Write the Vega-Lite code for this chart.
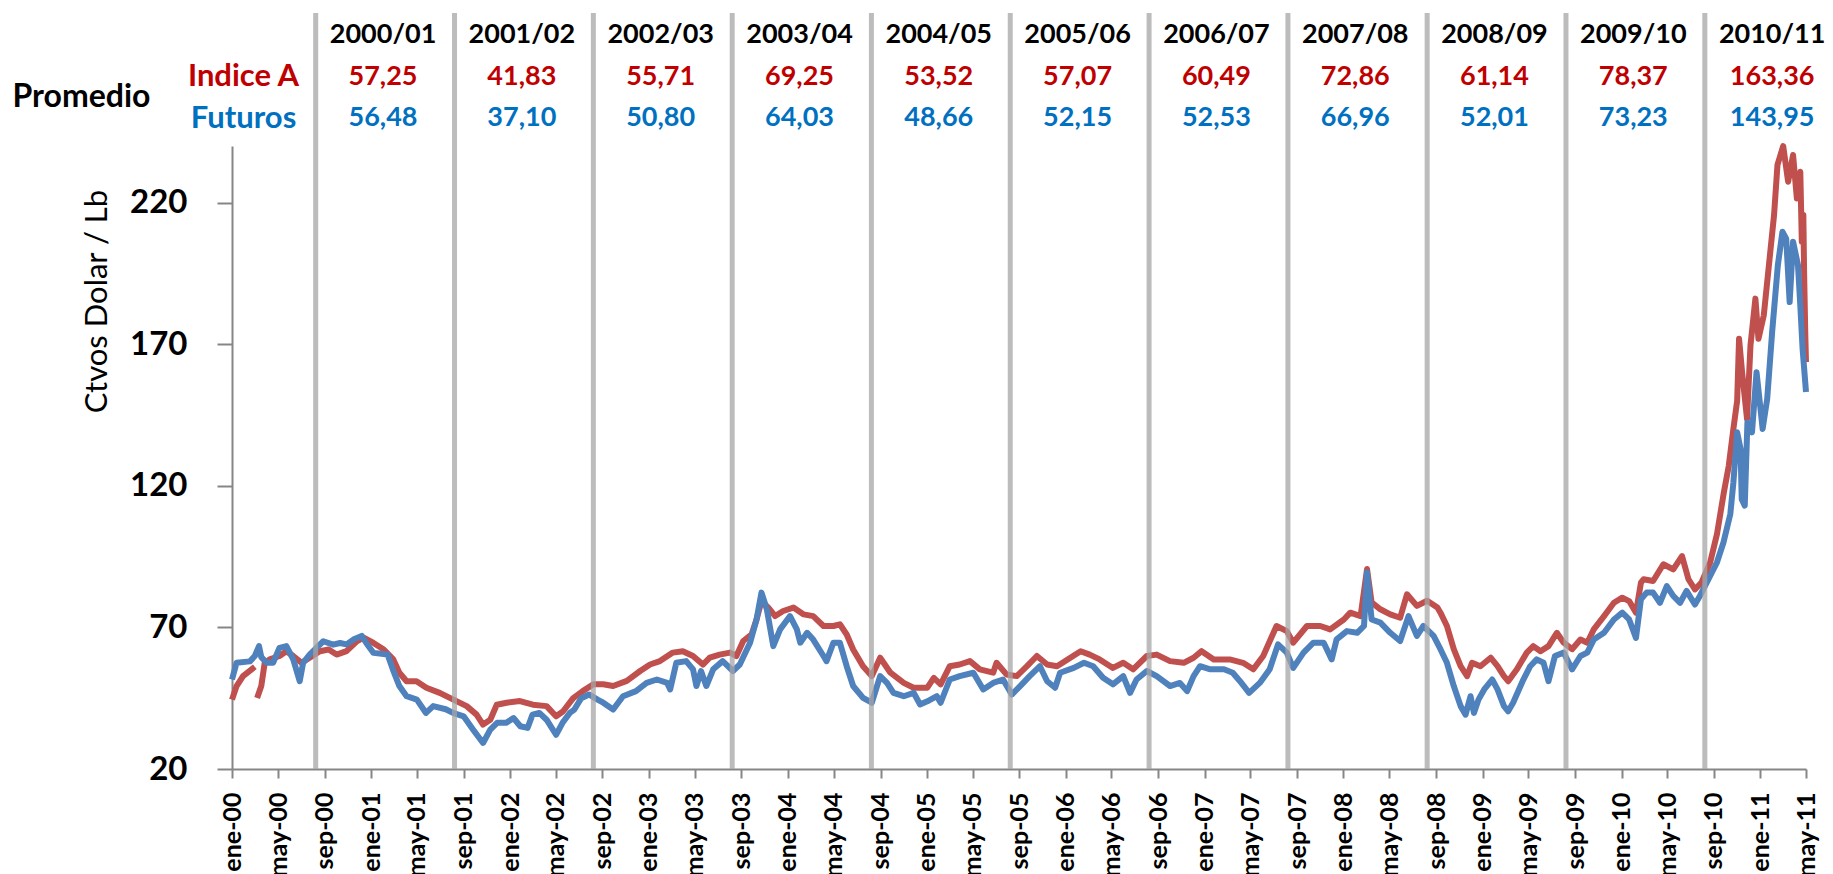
{
 "$schema": "https://vega.github.io/schema/vega-lite/v6.json",
 "padding": {"left": 12, "top": 10, "right": 5, "bottom": 0},
 "config": {
  "font": "Lato",
  "view": {"stroke": null},
  "axis": {"grid": false},
  "locale": {"number": {"decimal": ",", "thousands": ".", "grouping": [3], "currency": ["", " €"]}}
 },
 "datasets": {
  "campanas": [
   {"campana": "2000/01", "centro": "2001-02-01", "indiceA": 57.25, "futuros": 56.48},
   {"campana": "2001/02", "centro": "2002-02-01", "indiceA": 41.83, "futuros": 37.10},
   {"campana": "2002/03", "centro": "2003-02-01", "indiceA": 55.71, "futuros": 50.80},
   {"campana": "2003/04", "centro": "2004-02-01", "indiceA": 69.25, "futuros": 64.03},
   {"campana": "2004/05", "centro": "2005-02-01", "indiceA": 53.52, "futuros": 48.66},
   {"campana": "2005/06", "centro": "2006-02-01", "indiceA": 57.07, "futuros": 52.15},
   {"campana": "2006/07", "centro": "2007-02-01", "indiceA": 60.49, "futuros": 52.53},
   {"campana": "2007/08", "centro": "2008-02-01", "indiceA": 72.86, "futuros": 66.96},
   {"campana": "2008/09", "centro": "2009-02-01", "indiceA": 61.14, "futuros": 52.01},
   {"campana": "2009/10", "centro": "2010-02-01", "indiceA": 78.37, "futuros": 73.23},
   {"campana": "2010/11", "centro": "2011-02-01", "indiceA": 163.36, "futuros": 143.95}
  ],
  "cortes": [
   {"fecha": "2000-08-08"}, {"fecha": "2001-08-08"}, {"fecha": "2002-08-08"}, {"fecha": "2003-08-08"},
   {"fecha": "2004-08-08"}, {"fecha": "2005-08-08"}, {"fecha": "2006-08-08"}, {"fecha": "2007-08-08"},
   {"fecha": "2008-08-08"}, {"fecha": "2009-08-08"}, {"fecha": "2010-08-08"}
  ],
  "indiceA": [
   {"fecha":"2000-01-01","valor":44.5},{"fecha":"2000-01-13","valor":49.3},{"fecha":"2000-01-30","valor":52.8},{"fecha":"2000-03-01","valor":56.1},{"fecha":"2000-03-03","valor":null},{"fecha":"2000-03-07","valor":45.1},{"fecha":"2000-03-18","valor":49.3},{"fecha":"2000-03-27","valor":57.5},{"fecha":"2000-04-09","valor":58.7},{"fecha":"2000-05-05","valor":59.9},{"fecha":"2000-05-23","valor":61.6},{"fecha":"2000-06-10","valor":59.9},{"fecha":"2000-07-02","valor":57.5},{"fecha":"2000-07-23","valor":59.3},{"fecha":"2000-08-19","valor":61.6},{"fecha":"2000-09-11","valor":62.2},{"fecha":"2000-10-02","valor":60.4},{"fecha":"2000-10-28","valor":61.6},{"fecha":"2000-11-24","valor":65.1},{"fecha":"2000-12-12","valor":66.4},
   {"fecha":"2001-01-07","valor":64.5},{"fecha":"2001-02-03","valor":62.2},{"fecha":"2001-02-28","valor":58.7},{"fecha":"2001-03-16","valor":54},{"fecha":"2001-04-04","valor":51},{"fecha":"2001-04-30","valor":51},{"fecha":"2001-05-26","valor":48.7},{"fecha":"2001-06-30","valor":46.9},{"fecha":"2001-08-05","valor":44.5},{"fecha":"2001-09-09","valor":42.2},{"fecha":"2001-10-05","valor":39.2},{"fecha":"2001-10-22","valor":35.7},{"fecha":"2001-11-10","valor":37.4},{"fecha":"2001-11-27","valor":42.7},{"fecha":"2001-12-23","valor":43.4},
   {"fecha":"2002-01-27","valor":44},{"fecha":"2002-03-02","valor":42.7},{"fecha":"2002-04-07","valor":42.2},{"fecha":"2002-05-02","valor":38.6},{"fecha":"2002-05-20","valor":40.3},{"fecha":"2002-06-16","valor":45},{"fecha":"2002-07-11","valor":47.5},{"fecha":"2002-08-08","valor":49.9},{"fecha":"2002-09-03","valor":49.9},{"fecha":"2002-09-29","valor":49.3},{"fecha":"2002-11-04","valor":51.1},{"fecha":"2002-12-09","valor":54.6},
   {"fecha":"2003-01-04","valor":56.9},{"fecha":"2003-01-30","valor":58.1},{"fecha":"2003-03-05","valor":61.1},{"fecha":"2003-03-31","valor":61.6},{"fecha":"2003-04-27","valor":59.9},{"fecha":"2003-05-23","valor":56.9},{"fecha":"2003-06-10","valor":59.3},{"fecha":"2003-07-06","valor":60.4},{"fecha":"2003-08-02","valor":61.1},{"fecha":"2003-08-19","valor":59.9},{"fecha":"2003-09-06","valor":65.2},{"fecha":"2003-09-28","valor":67.5},{"fecha":"2003-10-11","valor":72.8},{"fecha":"2003-10-24","valor":79.3},{"fecha":"2003-11-11","valor":77},{"fecha":"2003-11-29","valor":74},{"fecha":"2003-12-20","valor":75.8},
   {"fecha":"2004-01-16","valor":77},{"fecha":"2004-02-12","valor":74.6},{"fecha":"2004-03-08","valor":74},{"fecha":"2004-04-04","valor":70.5},{"fecha":"2004-04-30","valor":70.5},{"fecha":"2004-05-17","valor":71.1},{"fecha":"2004-06-04","valor":67.5},{"fecha":"2004-06-21","valor":62.2},{"fecha":"2004-07-17","valor":56.3},{"fecha":"2004-08-09","valor":52.8},{"fecha":"2004-08-31","valor":59.3},{"fecha":"2004-09-27","valor":54},{"fecha":"2004-11-01","valor":50.4},{"fecha":"2004-11-27","valor":48.7},
   {"fecha":"2005-01-02","valor":48.7},{"fecha":"2005-01-19","valor":52.2},{"fecha":"2005-02-06","valor":49.9},{"fecha":"2005-03-02","valor":56.3},{"fecha":"2005-03-28","valor":56.9},{"fecha":"2005-04-24","valor":58.1},{"fecha":"2005-05-20","valor":55.2},{"fecha":"2005-06-24","valor":54},{"fecha":"2005-07-03","valor":57.5},{"fecha":"2005-07-29","valor":53.4},{"fecha":"2005-08-25","valor":52.8},{"fecha":"2005-09-21","valor":56.3},{"fecha":"2005-10-17","valor":59.9},{"fecha":"2005-11-13","valor":56.9},{"fecha":"2005-12-09","valor":56.3},
   {"fecha":"2006-01-13","valor":59.3},{"fecha":"2006-02-09","valor":61.6},{"fecha":"2006-03-05","valor":60.4},{"fecha":"2006-03-31","valor":58.7},{"fecha":"2006-05-05","valor":55.7},{"fecha":"2006-06-01","valor":57.5},{"fecha":"2006-06-27","valor":55.2},{"fecha":"2006-08-02","valor":59.9},{"fecha":"2006-08-28","valor":60.4},{"fecha":"2006-10-02","valor":58.1},{"fecha":"2006-11-07","valor":57.5},{"fecha":"2006-12-03","valor":59.3},{"fecha":"2006-12-24","valor":61.6},
   {"fecha":"2007-01-25","valor":58.7},{"fecha":"2007-03-08","valor":58.7},{"fecha":"2007-04-12","valor":57.5},{"fecha":"2007-05-09","valor":55.2},{"fecha":"2007-06-04","valor":59.9},{"fecha":"2007-07-09","valor":70.5},{"fecha":"2007-08-05","valor":68.7},{"fecha":"2007-08-22","valor":64.6},{"fecha":"2007-09-27","valor":70.5},{"fecha":"2007-11-01","valor":70.5},{"fecha":"2007-11-27","valor":69.3},
   {"fecha":"2008-01-02","valor":72.8},{"fecha":"2008-01-19","valor":75.2},{"fecha":"2008-02-15","valor":74},{"fecha":"2008-03-03","valor":90.6},{"fecha":"2008-03-15","valor":78.8},{"fecha":"2008-04-07","valor":76.4},{"fecha":"2008-05-03","valor":74.6},{"fecha":"2008-05-29","valor":73.4},{"fecha":"2008-06-16","valor":81.7},{"fecha":"2008-07-12","valor":77.6},{"fecha":"2008-08-08","valor":79.4},{"fecha":"2008-09-04","valor":77},{"fecha":"2008-09-12","valor":75.2},{"fecha":"2008-09-29","valor":70.5},{"fecha":"2008-10-17","valor":62.3},{"fecha":"2008-11-04","valor":56.3},{"fecha":"2008-11-21","valor":52.8},{"fecha":"2008-12-04","valor":57.5},{"fecha":"2008-12-26","valor":56.3},
   {"fecha":"2009-01-22","valor":59.3},{"fecha":"2009-02-09","valor":56.3},{"fecha":"2009-02-26","valor":52.8},{"fecha":"2009-03-09","valor":51},{"fecha":"2009-04-01","valor":55.2},{"fecha":"2009-04-27","valor":61.1},{"fecha":"2009-05-14","valor":63.4},{"fecha":"2009-06-02","valor":61.6},{"fecha":"2009-06-23","valor":63.4},{"fecha":"2009-07-15","valor":68.1},{"fecha":"2009-08-02","valor":64.6},{"fecha":"2009-08-24","valor":62.3},{"fecha":"2009-09-15","valor":65.7},{"fecha":"2009-10-03","valor":64.6},{"fecha":"2009-10-20","valor":69.3},{"fecha":"2009-11-16","valor":74},{"fecha":"2009-12-12","valor":78.7},
   {"fecha":"2010-01-03","valor":80.5},{"fecha":"2010-01-21","valor":79.3},{"fecha":"2010-02-08","valor":75.2},{"fecha":"2010-02-21","valor":85.8},{"fecha":"2010-02-28","valor":87},{"fecha":"2010-03-25","valor":86.4},{"fecha":"2010-04-21","valor":92.3},{"fecha":"2010-05-17","valor":90.5},{"fecha":"2010-06-09","valor":95.2},{"fecha":"2010-06-26","valor":87},{"fecha":"2010-07-13","valor":83.4},{"fecha":"2010-07-30","valor":85.8},{"fecha":"2010-08-22","valor":92.9},{"fecha":"2010-09-09","valor":103},{"fecha":"2010-09-27","valor":117.6},{"fecha":"2010-10-10","valor":127.1},{"fecha":"2010-10-22","valor":140},{"fecha":"2010-11-01","valor":150},{"fecha":"2010-11-06","valor":171.9},{"fecha":"2010-11-14","valor":160.1},{"fecha":"2010-11-27","valor":143.6},{"fecha":"2010-12-06","valor":169.5},{"fecha":"2010-12-19","valor":186.1},{"fecha":"2010-12-27","valor":171.9},
   {"fecha":"2011-01-10","valor":180.2},{"fecha":"2011-01-28","valor":203.8},{"fecha":"2011-02-06","valor":215.6},{"fecha":"2011-02-15","valor":233.3},{"fecha":"2011-03-02","valor":240},{"fecha":"2011-03-15","valor":227.4},{"fecha":"2011-03-28","valor":236.8},{"fecha":"2011-04-07","valor":221.5},{"fecha":"2011-04-16","valor":230.9},{"fecha":"2011-04-20","valor":206.2},{"fecha":"2011-04-24","valor":215.6},{"fecha":"2011-04-26","valor":195.5},{"fecha":"2011-04-29","valor":174.3},{"fecha":"2011-05-01","valor":163.7}
  ],
  "futuros": [
   {"fecha":"2000-01-01","valor":51.6},{"fecha":"2000-01-13","valor":57.5},{"fecha":"2000-02-17","valor":58},{"fecha":"2000-03-01","valor":59.9},{"fecha":"2000-03-12","valor":63.4},{"fecha":"2000-03-18","valor":59.5},{"fecha":"2000-04-01","valor":57.5},{"fecha":"2000-04-18","valor":57.5},{"fecha":"2000-05-05","valor":62.8},{"fecha":"2000-05-23","valor":63.4},{"fecha":"2000-06-10","valor":58.7},{"fecha":"2000-06-27","valor":51},{"fecha":"2000-07-06","valor":57.5},{"fecha":"2000-07-23","valor":60.4},{"fecha":"2000-08-10","valor":62.8},{"fecha":"2000-08-28","valor":65.1},{"fecha":"2000-09-23","valor":63.9},{"fecha":"2000-10-11","valor":64.5},{"fecha":"2000-10-28","valor":64},{"fecha":"2000-11-15","valor":65.7},{"fecha":"2000-12-07","valor":67},{"fecha":"2000-12-19","valor":64.5},
   {"fecha":"2001-01-07","valor":61},{"fecha":"2001-02-13","valor":60.4},{"fecha":"2001-02-27","valor":55.1},{"fecha":"2001-03-16","valor":49.3},{"fecha":"2001-04-04","valor":45.7},{"fecha":"2001-05-01","valor":44.5},{"fecha":"2001-05-25","valor":39.8},{"fecha":"2001-06-13","valor":42.2},{"fecha":"2001-07-16","valor":41.1},{"fecha":"2001-08-04","valor":39.8},{"fecha":"2001-09-01","valor":38.6},{"fecha":"2001-09-26","valor":33.9},{"fecha":"2001-10-22","valor":29.2},{"fecha":"2001-11-10","valor":33.9},{"fecha":"2001-11-28","valor":36.3},{"fecha":"2001-12-22","valor":36.3},
   {"fecha":"2002-01-10","valor":38},{"fecha":"2002-01-28","valor":35.1},{"fecha":"2002-02-16","valor":34.5},{"fecha":"2002-03-01","valor":39.2},{"fecha":"2002-03-19","valor":39.8},{"fecha":"2002-04-07","valor":37.4},{"fecha":"2002-05-02","valor":32.1},{"fecha":"2002-05-19","valor":36.3},{"fecha":"2002-06-07","valor":39.8},{"fecha":"2002-06-19","valor":41},{"fecha":"2002-07-07","valor":45},{"fecha":"2002-07-28","valor":46.3},{"fecha":"2002-08-19","valor":44.5},{"fecha":"2002-09-03","valor":43.4},{"fecha":"2002-09-29","valor":41},{"fecha":"2002-10-25","valor":45.7},{"fecha":"2002-11-28","valor":47.5},{"fecha":"2002-12-26","valor":50.4},
   {"fecha":"2003-01-22","valor":51.6},{"fecha":"2003-02-18","valor":50.4},{"fecha":"2003-02-26","valor":48.1},{"fecha":"2003-03-14","valor":57.5},{"fecha":"2003-04-09","valor":58.1},{"fecha":"2003-04-27","valor":55.2},{"fecha":"2003-05-06","valor":49.3},{"fecha":"2003-05-18","valor":54.6},{"fecha":"2003-06-01","valor":49.3},{"fecha":"2003-06-19","valor":55.2},{"fecha":"2003-07-14","valor":58.1},{"fecha":"2003-08-10","valor":54.6},{"fecha":"2003-08-28","valor":56.9},{"fecha":"2003-09-24","valor":64.6},{"fecha":"2003-10-11","valor":72.8},{"fecha":"2003-10-24","valor":82.3},{"fecha":"2003-11-07","valor":76.4},{"fecha":"2003-11-24","valor":63.4},{"fecha":"2003-12-12","valor":69.3},
   {"fecha":"2004-01-07","valor":74},{"fecha":"2004-01-25","valor":69.3},{"fecha":"2004-02-03","valor":64.6},{"fecha":"2004-02-21","valor":68.1},{"fecha":"2004-03-08","valor":65.7},{"fecha":"2004-04-04","valor":59.9},{"fecha":"2004-04-12","valor":58.1},{"fecha":"2004-04-30","valor":64.6},{"fecha":"2004-05-17","valor":64.6},{"fecha":"2004-06-04","valor":56.3},{"fecha":"2004-06-21","valor":49.3},{"fecha":"2004-07-17","valor":45.1},{"fecha":"2004-08-09","valor":43.4},{"fecha":"2004-08-31","valor":52.8},{"fecha":"2004-09-18","valor":50.4},{"fecha":"2004-10-05","valor":46.9},{"fecha":"2004-11-01","valor":45.7},{"fecha":"2004-11-27","valor":46.9},{"fecha":"2004-12-14","valor":42.8},
   {"fecha":"2005-01-02","valor":43.9},{"fecha":"2005-01-27","valor":45.7},{"fecha":"2005-02-06","valor":43.4},{"fecha":"2005-03-02","valor":51.6},{"fecha":"2005-03-28","valor":52.8},{"fecha":"2005-05-03","valor":54},{"fecha":"2005-05-29","valor":48.1},{"fecha":"2005-06-24","valor":50.4},{"fecha":"2005-07-20","valor":51.6},{"fecha":"2005-08-12","valor":46.3},{"fecha":"2005-09-03","valor":49.3},{"fecha":"2005-09-28","valor":52.8},{"fecha":"2005-10-25","valor":56.3},{"fecha":"2005-11-13","valor":51},{"fecha":"2005-12-04","valor":48.7},{"fecha":"2005-12-17","valor":54},
   {"fecha":"2006-01-22","valor":55.7},{"fecha":"2006-02-18","valor":57.5},{"fecha":"2006-03-14","valor":56.3},{"fecha":"2006-04-09","valor":52.2},{"fecha":"2006-05-05","valor":49.9},{"fecha":"2006-06-01","valor":52.8},{"fecha":"2006-06-19","valor":46.9},{"fecha":"2006-07-06","valor":51.6},{"fecha":"2006-08-02","valor":54.6},{"fecha":"2006-08-28","valor":52.8},{"fecha":"2006-10-02","valor":49.3},{"fecha":"2006-10-28","valor":50.4},{"fecha":"2006-11-16","valor":47.5},{"fecha":"2006-12-03","valor":52.8},{"fecha":"2006-12-20","valor":56.3},
   {"fecha":"2007-01-16","valor":55.2},{"fecha":"2007-02-21","valor":55.2},{"fecha":"2007-03-16","valor":54},{"fecha":"2007-04-04","valor":51},{"fecha":"2007-04-28","valor":46.9},{"fecha":"2007-05-26","valor":50.4},{"fecha":"2007-06-21","valor":55.2},{"fecha":"2007-07-13","valor":64},{"fecha":"2007-08-05","valor":61.1},{"fecha":"2007-08-22","valor":55.7},{"fecha":"2007-09-18","valor":61.1},{"fecha":"2007-10-14","valor":64.6},{"fecha":"2007-11-10","valor":64.6},{"fecha":"2007-12-01","valor":58.7},{"fecha":"2007-12-14","valor":65.8},
   {"fecha":"2008-01-10","valor":68.7},{"fecha":"2008-02-06","valor":68.1},{"fecha":"2008-02-24","valor":70.5},{"fecha":"2008-03-03","valor":89.4},{"fecha":"2008-03-15","valor":72.8},{"fecha":"2008-04-07","valor":71.7},{"fecha":"2008-05-03","valor":68.1},{"fecha":"2008-05-29","valor":65.2},{"fecha":"2008-06-20","valor":74},{"fecha":"2008-07-12","valor":67},{"fecha":"2008-07-29","valor":70.5},{"fecha":"2008-08-25","valor":67},{"fecha":"2008-09-12","valor":62.3},{"fecha":"2008-09-29","valor":57.5},{"fecha":"2008-10-17","valor":49.3},{"fecha":"2008-11-04","valor":42.2},{"fecha":"2008-11-17","valor":39.2},{"fecha":"2008-11-30","valor":45.7},{"fecha":"2008-12-09","valor":39.8},{"fecha":"2008-12-21","valor":44.5},
   {"fecha":"2009-01-05","valor":48.1},{"fecha":"2009-01-26","valor":51.6},{"fecha":"2009-02-09","valor":48.1},{"fecha":"2009-02-26","valor":42.2},{"fecha":"2009-03-09","valor":40.4},{"fecha":"2009-03-22","valor":43.4},{"fecha":"2009-04-18","valor":51.6},{"fecha":"2009-05-06","valor":56.3},{"fecha":"2009-05-23","valor":58.7},{"fecha":"2009-06-10","valor":57.5},{"fecha":"2009-06-23","valor":51},{"fecha":"2009-07-10","valor":59.9},{"fecha":"2009-08-02","valor":61.1},{"fecha":"2009-08-24","valor":55.2},{"fecha":"2009-09-15","valor":59.9},{"fecha":"2009-10-03","valor":61.1},{"fecha":"2009-10-20","valor":65.7},{"fecha":"2009-11-16","valor":68.1},{"fecha":"2009-12-12","valor":72.8},
   {"fecha":"2010-01-03","valor":75.2},{"fecha":"2010-01-21","valor":72.8},{"fecha":"2010-02-08","valor":66.3},{"fecha":"2010-02-21","valor":79.9},{"fecha":"2010-03-08","valor":82.3},{"fecha":"2010-03-25","valor":82.3},{"fecha":"2010-04-12","valor":78.7},{"fecha":"2010-04-30","valor":84.6},{"fecha":"2010-05-17","valor":81.1},{"fecha":"2010-06-04","valor":78.7},{"fecha":"2010-06-21","valor":82.9},{"fecha":"2010-07-13","valor":78.1},{"fecha":"2010-07-26","valor":81.1},{"fecha":"2010-08-13","valor":85.8},{"fecha":"2010-09-09","valor":93},{"fecha":"2010-09-26","valor":100},{"fecha":"2010-10-14","valor":110},{"fecha":"2010-10-22","valor":121},{"fecha":"2010-11-01","valor":138.9},{"fecha":"2010-11-10","valor":133},{"fecha":"2010-11-13","valor":115.3},{"fecha":"2010-11-21","valor":113},{"fecha":"2010-11-28","valor":142.4},{"fecha":"2010-12-10","valor":138.9},{"fecha":"2010-12-22","valor":160.1},
   {"fecha":"2011-01-07","valor":140.1},{"fecha":"2011-01-19","valor":150.7},{"fecha":"2011-02-01","valor":174.3},{"fecha":"2011-02-16","valor":197.9},{"fecha":"2011-02-28","valor":209.7},{"fecha":"2011-03-10","valor":207.3},{"fecha":"2011-03-19","valor":184.9},{"fecha":"2011-03-28","valor":206.2},{"fecha":"2011-04-10","valor":197.9},{"fecha":"2011-04-16","valor":183.7},{"fecha":"2011-04-22","valor":168.4},{"fecha":"2011-05-01","valor":153.1}
  ]
 },
 "spacing": 0,
 "bounds": "flush",
 "resolve": {"scale": {"x": "independent", "y": "independent"}},
 "vconcat": [
  {
   "width": 1574,
   "height": 133,
   "layer": [
    {
     "data": {"name": "cortes"},
     "mark": {"type": "rule", "color": "#a6a6a6", "opacity": 0.75, "strokeWidth": 5},
     "encoding": {
      "x": {"field": "fecha", "type": "temporal", "axis": null,
            "scale": {"type": "utc", "domain": [{"year": 2000, "month": 1, "date": 1, "utc": true}, {"year": 2011, "month": 5, "date": 1, "utc": true}]}}
     }
    },
    {
     "data": {"name": "campanas"},
     "mark": {"type": "text", "fontSize": 27, "fontWeight": "bold", "color": "#000000", "font": "Lato"},
     "encoding": {
      "x": {"field": "centro", "type": "temporal", "axis": null,
            "scale": {"type": "utc", "domain": [{"year": 2000, "month": 1, "date": 1, "utc": true}, {"year": 2011, "month": 5, "date": 1, "utc": true}]}},
      "y": {"datum": "Campaña", "type": "nominal",
            "scale": {"type": "point", "domain": ["Campaña", "Indice A", "Futuros"], "range": [22, 105], "padding": 0},
            "axis": {"title": "Promedio", "titleAngle": 0, "titleAlign": "left", "titleBaseline": "middle", "titleX": -220, "titleY": 83,
                     "titleFont": "Lato", "titleFontSize": 32, "titleFontWeight": "bold", "titleColor": "#000000",
                     "labelExpr": "datum.value == 'Campaña' ? '' : datum.value",
                     "labelAlign": "center", "labelBaseline": "middle", "labelPadding": -11, "labelFont": "Lato", "labelFontSize": 31, "labelFontWeight": "bold",
                     "labelColor": {"condition": {"test": "datum.value == 'Indice A'", "value": "#c00000"}, "value": "#0070c0"},
                     "ticks": false, "tickSize": 0, "domain": false, "grid": false}},
      "text": {"field": "campana"}
     }
    },
    {
     "data": {"name": "campanas"},
     "mark": {"type": "text", "fontSize": 27, "fontWeight": "bold", "color": "#c00000", "font": "Lato"},
     "encoding": {
      "x": {"field": "centro", "type": "temporal", "axis": null},
      "y": {"datum": "Indice A", "type": "nominal"},
      "text": {"field": "indiceA", "type": "quantitative", "format": ".2f"}
     }
    },
    {
     "data": {"name": "campanas"},
     "mark": {"type": "text", "fontSize": 27, "fontWeight": "bold", "color": "#0070c0", "font": "Lato"},
     "encoding": {
      "x": {"field": "centro", "type": "temporal", "axis": null},
      "y": {"datum": "Futuros", "type": "nominal"},
      "text": {"field": "futuros", "type": "quantitative", "format": ".2f"}
     }
    }
   ]
  },
  {
   "width": 1574,
   "height": 623,
   "layer": [
    {
     "data": {"name": "indiceA"},
     "mark": {"type": "line", "color": "#c0504d", "strokeWidth": 6, "strokeJoin": "round"},
     "encoding": {
      "x": {"field": "fecha", "type": "temporal",
            "scale": {"type": "utc", "domain": [{"year": 2000, "month": 1, "date": 1, "utc": true}, {"year": 2011, "month": 5, "date": 1, "utc": true}]},
            "axis": {"title": null, "tickCount": {"interval": "month", "step": 4},
                     "labelExpr": "['ene','feb','mar','abr','may','jun','jul','ago','sep','oct','nov','dic'][utcmonth(datum.value)] + '-' + utcFormat(datum.value, '%y')",
                     "labelAngle": -90, "labelFont": "Lato", "labelFontSize": 25, "labelFontWeight": "bold", "labelColor": "#000000",
                     "labelPadding": 14, "labelOverlap": false, "labelFlush": false,
                     "tickSize": 9, "tickColor": "#868686", "tickWidth": 2, "domainColor": "#868686", "domainWidth": 2, "grid": false}},
      "y": {"field": "valor", "type": "quantitative",
            "scale": {"domain": [20, 240], "nice": false, "zero": false},
            "axis": {"values": [20, 70, 120, 170, 220], "title": "Ctvos Dolar / Lb",
                     "titleFont": "Lato", "titleFontSize": 31, "titleFontWeight": "normal", "titleColor": "#000000",
                     "titleAngle": -90, "titleX": -135, "titleY": 155, "titleAlign": "center", "titleBaseline": "middle",
                     "labelFont": "Lato", "labelFontSize": 33, "labelFontWeight": "bold", "labelColor": "#000000", "labelPadding": 30,
                     "tickSize": 15, "tickColor": "#868686", "tickWidth": 2, "domainColor": "#868686", "domainWidth": 2, "grid": false}}
     }
    },
    {
     "data": {"name": "futuros"},
     "mark": {"type": "line", "color": "#4f81bd", "strokeWidth": 6, "strokeJoin": "round"},
     "encoding": {
      "x": {"field": "fecha", "type": "temporal"},
      "y": {"field": "valor", "type": "quantitative"}
     }
    },
    {
     "data": {"name": "cortes"},
     "mark": {"type": "rule", "color": "#a6a6a6", "opacity": 0.75, "strokeWidth": 5},
     "encoding": {
      "x": {"field": "fecha", "type": "temporal"}
     }
    }
   ]
  }
 ]
}
